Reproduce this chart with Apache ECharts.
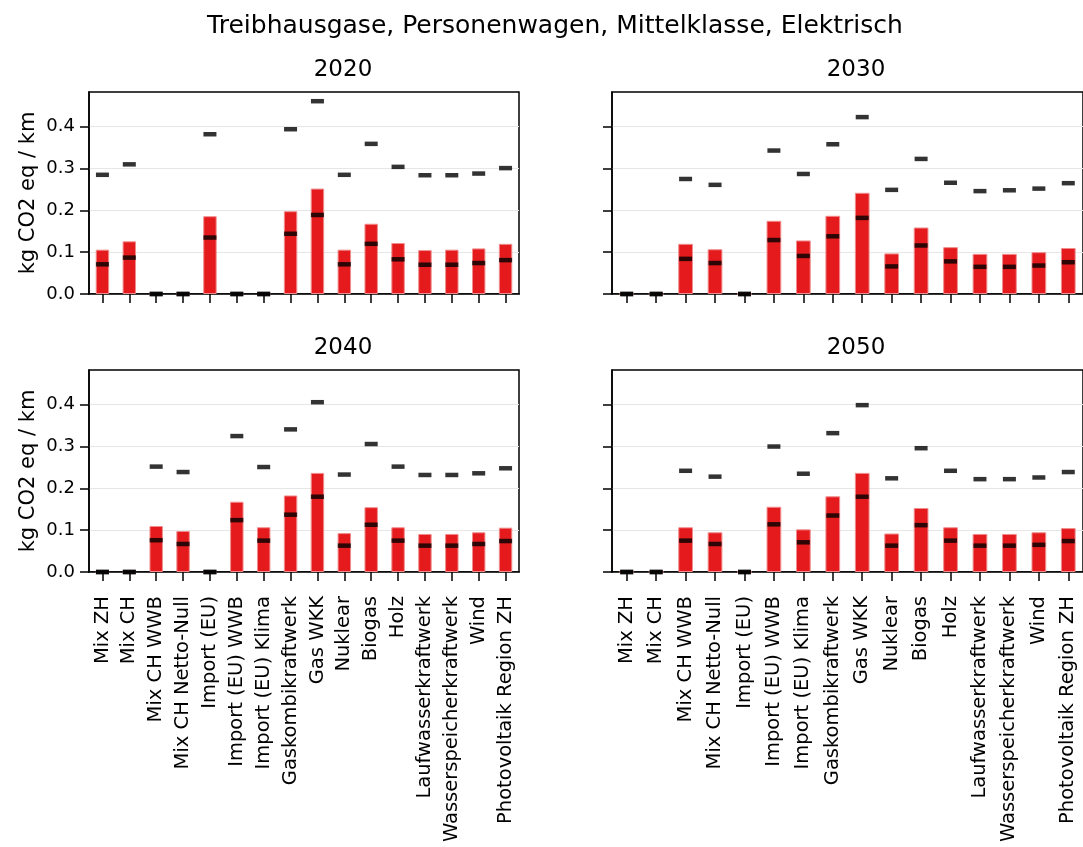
<!DOCTYPE html>
<html>
<head>
<meta charset="utf-8">
<script src="https://cdn.jsdelivr.net/npm/echarts@6/dist/echarts.min.js"></script>
<style>
  html, body { margin: 0; padding: 0; background: #fff; }
  #chart { width: 1083px; height: 847px; }
</style>
</head>
<body>
<div id="chart"></div>
<script>
var categories = ['Mix ZH', 'Mix CH', 'Mix CH WWB', 'Mix CH Netto-Null', 'Import (EU)',
    'Import (EU) WWB', 'Import (EU) Klima', 'Gaskombikraftwerk', 'Gas WKK', 'Nuklear',
    'Biogas', 'Holz', 'Laufwasserkraftwerk', 'Wasserspeicherkraftwerk', 'Wind',
    'Photovoltaik Region ZH'];
var years = ['2020', '2030', '2040', '2050'];
var yTicks = [0, 0.1, 0.2, 0.3, 0.4];

// mittlerer Wert (Balken), tiefer und hoher Wert (Striche)
var mid2020  = [0.106, 0.126, 0, 0, 0.186, 0, 0, 0.198, 0.252, 0.106, 0.168, 0.122, 0.105, 0.106, 0.109, 0.120];
var low2020  = [0.071, 0.087, 0, 0, 0.135, 0, 0, 0.144, 0.189, 0.071, 0.120, 0.083, 0.070, 0.070, 0.074, 0.081];
var high2020 = [0.285, 0.310, 0, 0, 0.382, 0, 0, 0.394, 0.461, 0.285, 0.359, 0.304, 0.284, 0.284, 0.288, 0.301];

var mid2030  = [0, 0, 0.120, 0.107, 0, 0.175, 0.128, 0.187, 0.242, 0.097, 0.159, 0.112, 0.096, 0.096, 0.100, 0.110];
var low2030  = [0, 0, 0.084, 0.074, 0, 0.129, 0.091, 0.138, 0.182, 0.066, 0.116, 0.078, 0.065, 0.065, 0.068, 0.076];
var high2030 = [0, 0, 0.275, 0.261, 0, 0.343, 0.287, 0.358, 0.423, 0.249, 0.323, 0.266, 0.246, 0.248, 0.252, 0.265];

var mid2040  = [0, 0, 0.110, 0.098, 0, 0.168, 0.107, 0.183, 0.237, 0.093, 0.155, 0.107, 0.091, 0.091, 0.095, 0.106];
var low2040  = [0, 0, 0.076, 0.067, 0, 0.124, 0.075, 0.137, 0.180, 0.063, 0.113, 0.075, 0.063, 0.063, 0.067, 0.074];
var high2040 = [0, 0, 0.252, 0.239, 0, 0.325, 0.251, 0.341, 0.406, 0.233, 0.306, 0.252, 0.232, 0.232, 0.236, 0.248];

var mid2050  = [0, 0, 0.107, 0.095, 0, 0.156, 0.102, 0.181, 0.237, 0.092, 0.153, 0.107, 0.091, 0.091, 0.095, 0.105];
var low2050  = [0, 0, 0.075, 0.067, 0, 0.114, 0.071, 0.135, 0.180, 0.063, 0.112, 0.075, 0.063, 0.063, 0.065, 0.074];
var high2050 = [0, 0, 0.242, 0.228, 0, 0.300, 0.235, 0.332, 0.399, 0.224, 0.296, 0.242, 0.222, 0.222, 0.226, 0.239];

var mids  = [mid2020, mid2030, mid2040, mid2050];
var lows  = [low2020, low2030, low2040, low2050];
var highs = [high2020, high2030, high2040, high2050];

var font = 'DejaVu Sans';
var grids = [
    { left: 89,  top: 92,  width: 430, height: 202 },
    { left: 612, top: 92,  width: 477, height: 202 },
    { left: 89,  top: 370, width: 430, height: 202 },
    { left: 612, top: 370, width: 477, height: 202 }
];
// Mitte der Untertitel (wie im Original leicht verschoben)
var titleX = [338, 851, 338, 851];

var myChart = echarts.init(document.getElementById('chart'));

var titles = [{
    text: 'Treibhausgase, Personenwagen, Mittelklasse, Elektrisch',
    left: 550, top: 9, textAlign: 'center',
    textStyle: { fontFamily: font, fontSize: 25, fontWeight: 'normal', color: '#000' }
}];
var xAxes = [], yAxes = [], series = [];

grids.forEach(function (g, i) {
    g.show = true;
    g.borderColor = '#000';
    g.borderWidth = 1.5;
    g.backgroundColor = '#fff';
    titles.push({
        text: years[i],
        left: titleX[i], top: g.top - 38, textAlign: 'center',
        textStyle: { fontFamily: font, fontSize: 23, fontWeight: 'normal', color: '#000' }
    });
    var bottomRow = i >= 2, leftCol = i % 2 === 0;
    xAxes.push({
        type: 'category', gridIndex: i, data: categories,
        axisLine: { show: true, lineStyle: { color: '#000', width: 1.5 } },
        axisTick: { show: true, alignWithLabel: true, length: 9, lineStyle: { color: '#000', width: 1.5 } },
        axisLabel: {
            show: bottomRow, rotate: 90, interval: 0, margin: 24,
            fontFamily: font, fontSize: 19.5, color: '#000'
        },
        splitLine: { show: false }
    });
    yAxes.push({
        type: 'value', gridIndex: i, min: 0, max: 0.483, interval: 0.1,
        name: leftCol ? 'kg CO2 eq / km' : '',
        nameLocation: 'middle', nameRotate: 90, nameGap: 50,
        nameTextStyle: { fontFamily: font, fontSize: 21, color: '#000' },
        axisLine: { show: true, lineStyle: { color: '#000', width: 1.5 } },
        axisTick: { show: true, length: 9, customValues: yTicks, lineStyle: { color: '#000', width: 1.5 } },
        axisLabel: {
            show: leftCol, customValues: yTicks, margin: 14,
            fontFamily: font, fontSize: 18, color: '#000',
            formatter: function (v) { return v.toFixed(1); }
        },
        splitLine: { show: true, lineStyle: { color: '#e6e6e6', width: 1 } }
    });
    series.push({
        type: 'bar', xAxisIndex: i, yAxisIndex: i, data: mids[i], barWidth: '50%',
        itemStyle: { color: '#e41a1c', borderColor: '#f08c8d', borderWidth: 1 }
    });
    series.push({
        type: 'scatter', xAxisIndex: i, yAxisIndex: i, data: lows[i], z: 5,
        symbol: 'rect', symbolSize: [13, 4.5], itemStyle: { color: '#000' }
    });
    series.push({
        type: 'scatter', xAxisIndex: i, yAxisIndex: i, data: highs[i], z: 5,
        symbol: 'rect', symbolSize: [13, 4.5], itemStyle: { color: '#000' }
    });
});

var option = {
    animation: false,
    backgroundColor: '#fff',
    title: titles,
    grid: grids,
    xAxis: xAxes,
    yAxis: yAxes,
    series: series
};

myChart.setOption(option);
</script>
</body>
</html>
